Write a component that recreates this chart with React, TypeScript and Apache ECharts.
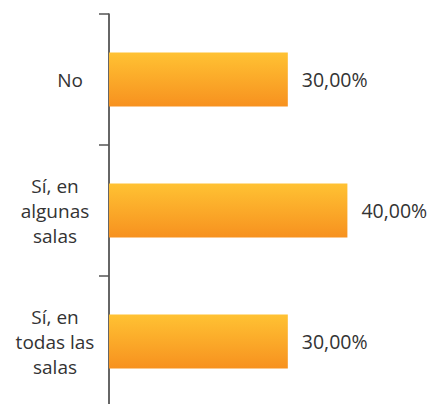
import React, { useEffect, useRef } from "react";
import * as echarts from "echarts";

const categories = ["No", "Sí, en algunas salas", "Sí, en todas las salas"];
const categoryLines = ["No", "Sí, en\nalgunas\nsalas", "Sí, en\ntodas las\nsalas"];
const values = [30, 40, 30];

export default function App() {
  const ref = useRef<HTMLDivElement>(null);
  useEffect(() => {
    if (!ref.current) return;
    const chart = echarts.init(ref.current, null, { renderer: "svg" });
    const font = "'Open Sans', 'Noto Sans', sans-serif";
    chart.setOption({
      animation: false,
      grid: { left: 109, right: 21, top: 14, bottom: 3, containLabel: false },
      xAxis: {
        type: "value",
        min: 0,
        max: 50,
        show: false,
        splitLine: { show: false },
      },
      yAxis: {
        type: "category",
        inverse: true,
        data: categories,
        offset: 3,
        axisLine: { show: true, lineStyle: { color: "#333", width: 1.5 } },
        axisTick: { show: true, length: 10, lineStyle: { color: "#555", width: 1.5 } },
        axisLabel: {
          margin: 51,
          align: "center",
          color: "#333",
          fontFamily: font,
          fontSize: 19,
          lineHeight: 25,
          formatter: (v: string) => {
            const i = categories.indexOf(v);
            const t = categoryLines[i];
            if (t === "No") return "{no|No}";
            return t;
          },
          rich: {
            no: {
              padding: [0, 0, 0, 30],
              color: "#333",
              fontFamily: font,
              fontSize: 19,
              lineHeight: 25,
            },
          },
        },
      },
      series: [
        {
          type: "bar",
          data: values,
          barWidth: 54,
          itemStyle: {
            color: new echarts.graphic.LinearGradient(0, 0, 0, 1, [
              { offset: 0, color: "#FFC233" },
              { offset: 1, color: "#F7911F" },
            ]),
          },
          label: {
            show: true,
            position: "right",
            distance: 14,
            color: "#333",
            fontFamily: font,
            fontSize: 19.5,
            formatter: (p: any) => p.value.toFixed(2).replace(".", ",") + "%",
          },
        },
      ],
    });
    return () => chart.dispose();
  }, []);
  return (
    <div
      ref={ref}
      style={{ position: "fixed", left: 0, top: 0, width: 428, height: 410, background: "#fff" }}
    />
  );
}
